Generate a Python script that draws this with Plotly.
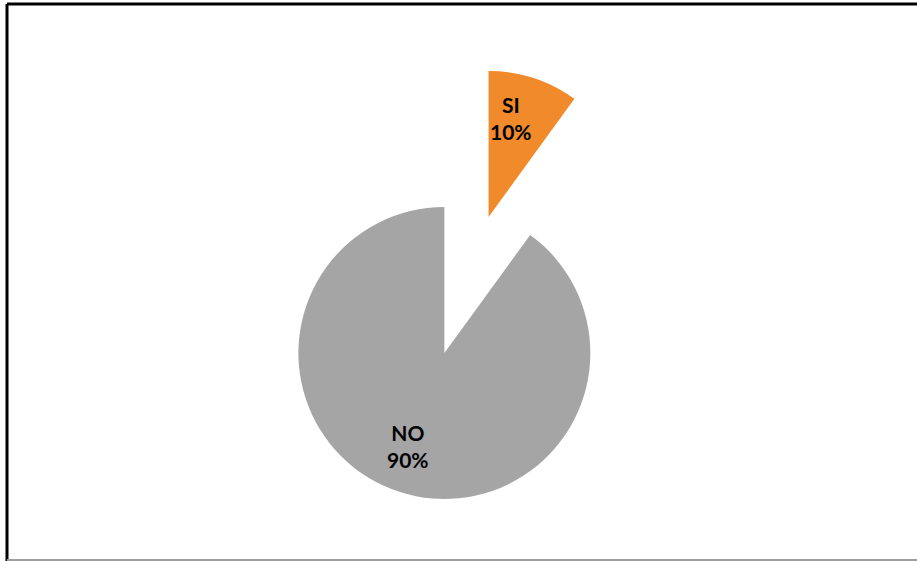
import plotly.graph_objects as go

labels = ["SI", "NO"]
values = [10, 90]
colors = ["#F08A2B", "#A5A5A5"]
pulls = [0.49, 0.49]

W, H = 917, 561

# label anchor positions (pixels) as placed in the reference chart
label_pos = {"SI": (511, 118), "NO": (408, 446)}

total = sum(values)

fig = go.Figure(go.Pie(
    labels=labels,
    values=values,
    sort=False,
    direction="clockwise",
    rotation=0,
    pull=pulls,
    marker=dict(colors=colors, line=dict(width=0)),
    textinfo="none",
    domain=dict(x=[0.2715, 0.7459], y=[0.1043, 0.8797]),
    hoverinfo="label+percent",
    showlegend=False,
))

annotations = []
for lab, val in zip(labels, values):
    px, py = label_pos[lab]
    annotations.append(dict(
        x=px / W, y=1 - py / H, xref="paper", yref="paper",
        xanchor="center", yanchor="middle", showarrow=False,
        text=f"{lab}<br>{round(100 * val / total)}%",
        font=dict(family="Lato", size=21, color="black", weight="bold"),
    ))

fig.update_layout(
    width=W, height=H,
    margin=dict(l=0, r=0, t=0, b=0),
    paper_bgcolor="white",
    plot_bgcolor="white",
    annotations=annotations,
    shapes=[
        dict(type="line", xref="paper", yref="paper", x0=7/W, x1=1, y0=1-4/H, y1=1-4/H,
             line=dict(color="black", width=3)),
        dict(type="line", xref="paper", yref="paper", x0=7/W, x1=7/W, y0=1-4/H, y1=0,
             line=dict(color="black", width=3)),
        dict(type="line", xref="paper", yref="paper", x0=7/W, x1=1, y0=1/H, y1=1/H,
             line=dict(color="#A0A0A0", width=2)),
    ],
)

fig.write_html(
    "out.html",
    config={"displayModeBar": False},
    post_script="document.body.style.margin='0';document.body.style.overflow='hidden';",
)
